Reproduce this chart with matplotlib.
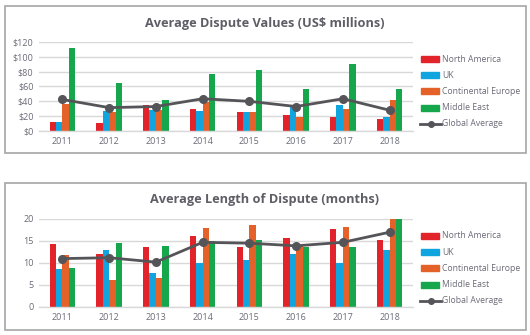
import matplotlib
matplotlib.use("Agg")
import matplotlib.pyplot as plt
import numpy as np
from matplotlib.patches import Rectangle
from matplotlib.lines import Line2D

plt.rcParams['font.family'] = ['Open Sans', 'DejaVu Sans']

years = ['2011', '2012', '2013', '2014', '2015', '2016', '2017', '2018']
series_names = ['North America', 'UK', 'Continental Europe', 'Middle East']
avg_name = 'Global Average'

values_na = [12, 10.5, 35, 29.5, 25.5, 21, 18.5, 16]
values_uk = [12, 26.5, 28, 26.5, 25.5, 33, 35, 18.5]
values_ce = [36, 25.5, 28, 39.5, 25.5, 18.5, 29.5, 41.5]
values_me = [112, 64.5, 41.5, 77, 82.5, 56.5, 90.5, 56.5]
values_avg = [42.5, 31.5, 33, 43.5, 40, 33, 43.5, 28]

length_na = [14.3, 12.0, 13.6, 16.1, 13.6, 15.7, 17.7, 15.2]
length_uk = [8.6, 13.0, 7.7, 10.0, 10.7, 12.0, 10.0, 13.0]
length_ce = [11.8, 6.1, 6.6, 18.0, 18.6, 13.9, 18.2, 20.0]
length_me = [8.9, 14.5, 13.9, 15.0, 15.2, 13.7, 13.6, 20.0]
length_avg = [11.0, 11.2, 10.2, 14.7, 14.5, 13.9, 14.7, 17.0]

colors = ['#E3232A', '#11A5DF', '#E5612A', '#16A74C']
line_color = '#555559'
text_color = '#6B6B78'
title_color = '#5E5E66'
grid_color = '#D9D9D9'

W, H = 530, 335
fig = plt.figure(figsize=(W / 100, H / 100), dpi=100)

def fig_rect(x0, y0, x1, y1):
    return [x0 / W, 1 - y1 / H, (x1 - x0) / W, (y1 - y0) / H]

def panel(box, ax_box, title, title_y, data, avg, ylim, yticks, yfmt, legend_y):
    bx0, by0, bx1, by1 = box
    fig.patches.append(Rectangle((bx0 / W, 1 - by1 / H), (bx1 - bx0) / W, (by1 - by0) / H,
                                 transform=fig.transFigure, fill=False,
                                 edgecolor='#A6A6A6', linewidth=1.2))
    fig.text(265 / W, 1 - title_y / H, title, ha='center', va='center',
             fontsize=9.2, fontweight='bold', color=title_color)
    ax = fig.add_axes(fig_rect(*ax_box))
    x = np.arange(len(years))
    bw = 0.1375
    for i, (vals, c) in enumerate(zip(data, colors)):
        ax.bar(x + (i - 1.5) * bw, vals, width=bw, color=c, zorder=2)
    ax.plot(x, avg, color=line_color, linewidth=2, marker='o', markersize=5.5, zorder=3)
    ax.set_xlim(-0.5, len(years) - 0.5)
    ax.set_ylim(*ylim)
    ax.set_yticks(yticks)
    ax.set_yticklabels([yfmt(v) for v in yticks])
    ax.set_xticks(x)
    ax.set_xticklabels(years)
    ax.grid(axis='y', color=grid_color, linewidth=1, zorder=0)
    ax.set_axisbelow(True)
    for s in ['top', 'right', 'left']:
        ax.spines[s].set_visible(False)
    ax.spines['bottom'].set_color(grid_color)
    ax.spines['bottom'].set_linewidth(1)
    ax.tick_params(axis='both', length=0, labelsize=6.5, colors=text_color, pad=4)
    ax.patch.set_alpha(0)
    labels = series_names + [avg_name]
    for k, lab in enumerate(labels):
        yy = 1 - (legend_y + k * 16.2) / H
        if k < 4:
            fig.patches.append(Rectangle((421 / W, yy - 3 / H), 18 / W, 6 / H,
                                         transform=fig.transFigure, color=colors[k]))
        else:
            fig.lines.append(Line2D([420 / W, 441 / W], [yy, yy], transform=fig.transFigure,
                                    color=line_color, linewidth=2))
            fig.lines.append(Line2D([430.5 / W], [yy], transform=fig.transFigure,
                                    color=line_color, marker='o', markersize=4))
        fig.text(442 / W, yy, lab, ha='left', va='center', fontsize=6.2, color=text_color)
    return ax

panel((5, 6, 526, 153), (39, 42, 413, 131), 'Average Dispute Values (US$ millions)', 23,
      [values_na, values_uk, values_ce, values_me], values_avg, (0, 120),
      [0, 20, 40, 60, 80, 100, 120], lambda v: '$' + str(v), 59)

panel((5, 183, 526, 330), (39, 219, 413, 307), 'Average Length of Dispute (months)', 199,
      [length_na, length_uk, length_ce, length_me], length_avg, (0, 20),
      [0, 5, 10, 15, 20], lambda v: str(v), 236)

fig.savefig('out.png', dpi=100, facecolor='white')
